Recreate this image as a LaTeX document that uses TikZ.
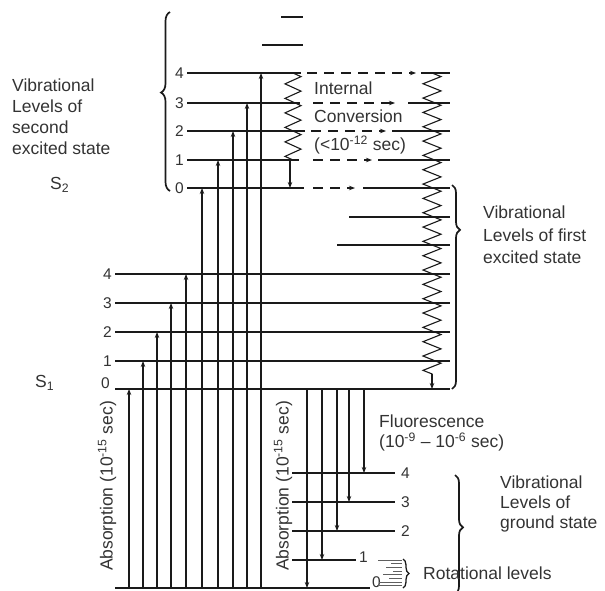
\documentclass[tikz,border=0pt]{standalone}
\usepackage{fontspec}
\setmainfont{Liberation Sans}
\usetikzlibrary{arrows.meta,decorations.pathmorphing,decorations.pathreplacing,calc}
\definecolor{ink}{HTML}{1A1A1A}
\definecolor{txt}{HTML}{333333}
\begin{document}
\begin{tikzpicture}[x=1pt,y=-1pt,
 lev/.style={line width=1.2pt,draw=ink},
 levzero/.style={line width=2.1pt,draw=ink},
 arr/.style={draw=ink,line width=1.15pt,-{Stealth[length=6pt,width=4.5pt]}},
 dsh/.style={draw=ink,line width=1.2pt,dash pattern=on 10pt off 7pt,-{Stealth[length=6pt,width=4.5pt]}},
 lbl/.style={font=\fontsize{17.5}{21}\selectfont,text=txt,inner sep=0pt,align=left},
 num/.style={font=\fontsize{15.5}{17}\selectfont,text=txt,inner sep=0pt},
 zz/.style={draw=ink,line width=1.1pt,decorate,decoration={zigzag,segment length=14.33pt,amplitude=9pt}},
 br/.style={draw=ink,line width=1.7pt,decorate,decoration={brace,amplitude=#1}},
 br/.default=9pt,
 rot/.style={draw=ink!70,line width=0.8pt}
]
\useasboundingbox (0,0) rectangle (605,590);

% ---------- coordinates of levels ----------
% second excited state S2
\coordinate (t1a) at (281,17);  \coordinate (t1b) at (303,17);
\coordinate (t2a) at (262,45);  \coordinate (t2b) at (303,45);
\foreach \n/\y in {4/73,3/103,2/131,1/160,0/188}{
  \coordinate (v\n) at (187,\y);
  \coordinate (vr\n) at (450,\y);
  \node[num,anchor=east] (nv\n) at (184,\y) {\n};
}
% first excited state S1
\coordinate (u6) at (349,217); \coordinate (ur6) at (450,217);
\coordinate (u5) at (337,245); \coordinate (ur5) at (450,245);
\foreach \n/\y in {4/274,3/303,2/332,1/361,0/389}{
  \coordinate (u\n) at (115,\y);
  \coordinate (ur\n) at (450,\y);
}
\foreach \n/\y in {4/274,3/303,2/332,1/361}{
  \node[num,anchor=east] (nu\n) at (112,\y) {\n};
}
\node[num,anchor=east] (nu0) at (110,383) {0};
% ground state
\coordinate (g0) at (115,588); \coordinate (gr0) at (370,588);
\foreach \n/\y in {4/473,3/502,2/531}{
  \coordinate (g\n) at (292,\y);
  \coordinate (gr\n) at (395,\y);
  \node[num,anchor=west] (ng\n) at (401,\y) {\n};
}
\coordinate (g1) at (292,560); \coordinate (gr1) at (356,560);
\node[num,anchor=west] (ng1) at (359,557) {1};
\node[num,anchor=west] (ng0) at (372,582) {0};

% ---------- S2 levels ----------
\draw[lev] (t1a) -- (t1b);
\draw[lev] (t2a) -- (t2b);
\draw[lev] (v4) -- (301,73);
\draw[dsh] (307,73) -- (416,73);
\draw[lev] (421,73) -- (vr4);
\draw[lev] (v3) -- (300,103);
\draw[dsh] (313,103) -- (395,103);
\draw[lev] (408,103) -- (vr3);
\draw[lev] (v2) -- (305,131);
\draw[dsh] (311,131) -- (386,131);
\draw[lev] (392,131) -- (vr2);
\draw[lev] (v1) -- (299,160);
\draw[dsh] (313,160) -- (372,160);
\draw[lev] (378,160) -- (vr1);
\draw[levzero] (v0) -- (304,188);
\draw[dsh] (313,188) -- (355,188);
\draw[lev] (363,188) -- (vr0);

% ---------- S1 levels ----------
\draw[lev] (u6) -- (ur6);
\draw[lev] (u5) -- (ur5);
\foreach \n in {4,3,2,1}{\draw[lev] (u\n) -- (ur\n);}
\draw[levzero] (u0) -- (ur0);

% ---------- ground levels ----------
\foreach \n in {4,3,2,1}{\draw[lev] (g\n) -- (gr\n);}
\draw[levzero] (g0) -- (gr0);

% rotational levels
\foreach \a/\y in {378/560,391/563,386/567,393/571,383/574,389/578,379/582,377/585}{
  \draw[rot] (\a,\y) -- (402,\y);
}

% ---------- internal conversion zigzags ----------
\coordinate (za) at (293,73);  \coordinate (zb) at (293,160);
\draw[zz,decoration={segment length=14.5pt,amplitude=8pt}] (za) -- (zb);
\coordinate (zc) at (290,160);
\draw[arr] (zc) -- (zc |- v0);
\coordinate (zd) at (432,73);  \coordinate (ze) at (432,374);
\draw[zz] (zd) -- (ze);
\draw[arr] (ze) -- (ze |- u0);

% ---------- absorption arrows ----------
\foreach \x/\t in {129/u0,143/u1,157/u2,171/u3,186/u4,202/v0,218/v1,233/v2,247/v3,261/v4}{
  \coordinate (ab\x) at (\x,588);
  \draw[arr] (ab\x) -- (ab\x |- \t);
}
% ---------- fluorescence arrows ----------
\foreach \x/\t in {307/g0,322/g1,337/g2,349/g3,364/g4}{
  \coordinate (fl\x) at (\x,389);
  \draw[arr] (fl\x) -- (fl\x |- \t);
}

% ---------- braces ----------
\coordinate (b2s) at (170,191); \coordinate (b2e) at (170,12);
\draw[br,decoration={aspect=0.55}] (b2s) -- (b2e);
\coordinate (b1s) at (452,185); \coordinate (b1e) at (452,389);
\draw[br=8pt,decoration={aspect=0.22}] (b1s) -- (b1e);
\coordinate (b0s) at (455,475); \coordinate (b0e) at (455,594);
\draw[br=8pt,decoration={aspect=0.44}] (b0s) -- (b0e);
\coordinate (brs) at (403,559); \coordinate (bre) at (403,588);
\draw[br=6pt,decoration={aspect=0.5},line width=1.3pt] (brs) -- (bre);

% ---------- labels ----------
\node[lbl,anchor=north west] (lab2) at (12,79) {Vibrational\\Levels of\\second\\excited state};
\node[lbl,anchor=west] (s2) at (50,185) {S\textsubscript{2}};
\node[lbl,anchor=west] (s1) at (35,383) {S\textsubscript{1}};
\node[lbl,anchor=north west,font=\fontsize{17.5}{28}\selectfont] (ic) at (314,82) {Internal\\Conversion\\(<10\textsuperscript{-12} sec)};
\node[lbl,anchor=north west,font=\fontsize{17.5}{22.5}\selectfont] (lab1) at (483,206) {Vibrational\\Levels of first\\excited state};
\node[lbl,anchor=north west,font=\fontsize{17.5}{19.5}\selectfont] (fl) at (379,415) {Fluorescence\\(10\textsuperscript{-9} -- 10\textsuperscript{-6} sec)};
\node[lbl,anchor=north west,font=\fontsize{17.5}{20}\selectfont] (lab0) at (500,476) {Vibrational\\Levels of\\ground state};
\node[lbl,anchor=west] (rl) at (423,573) {Rotational levels};
\node[lbl,rotate=90] (abs1) at (107,486) {Absorption (10\textsuperscript{-15} sec)};
\node[lbl,rotate=90] (abs2) at (283,486) {Absorption (10\textsuperscript{-15} sec)};
\end{tikzpicture}
\end{document}
